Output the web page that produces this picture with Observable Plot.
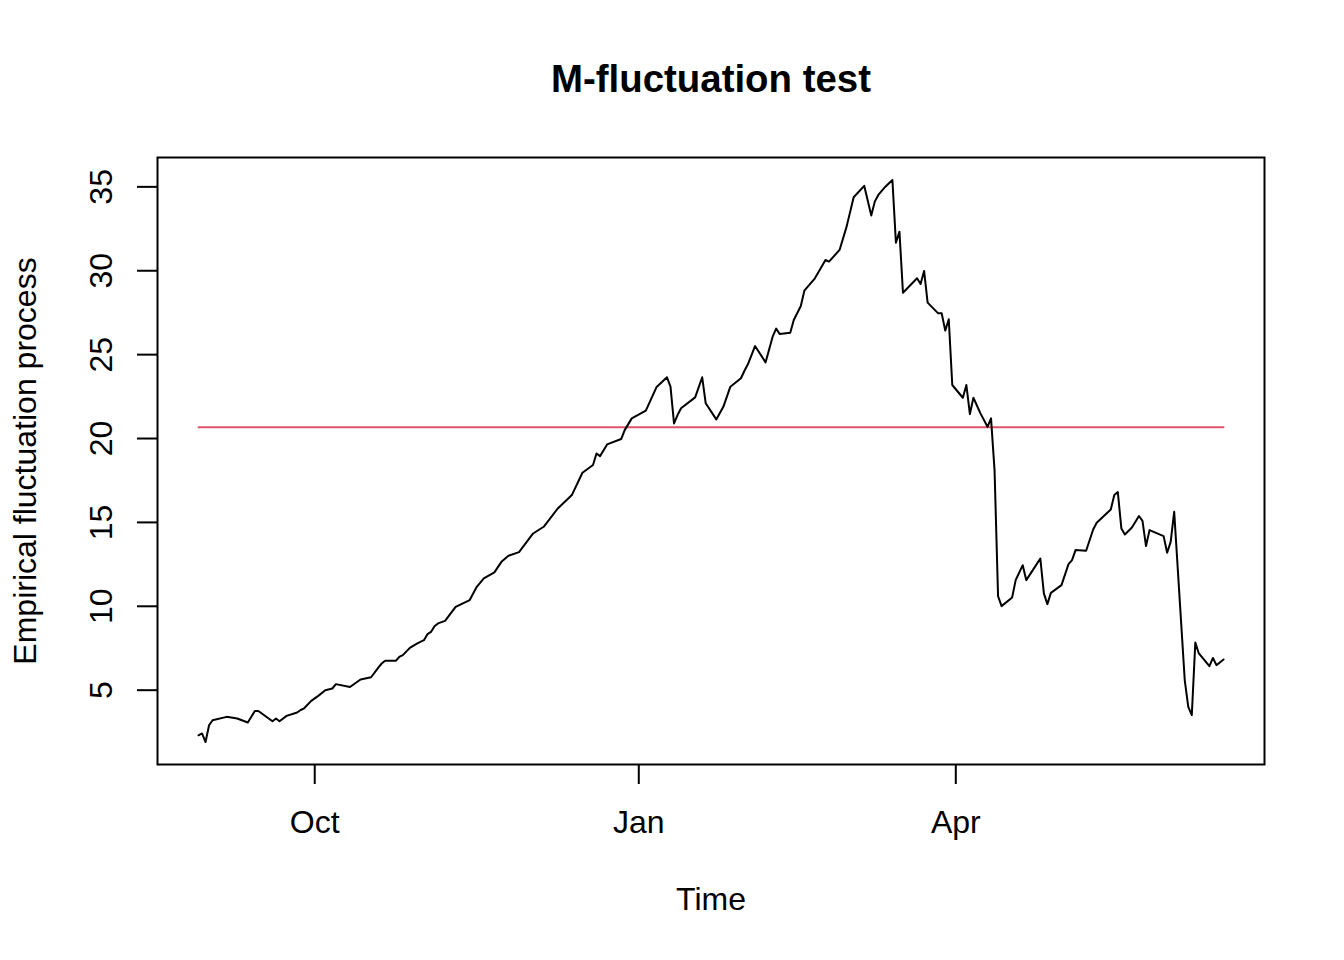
<!DOCTYPE html>
<html>
<head>
<meta charset="utf-8">
<script src="https://cdn.jsdelivr.net/npm/d3@7"></script>
<script src="https://cdn.jsdelivr.net/npm/@observablehq/plot@0.6"></script>
<style>
  html, body { margin: 0; padding: 0; background: white; }
</style>
</head>
<body>
<div id="chart"></div>
<script>
// Days relative to 1 Oct 2001 (time index of the empirical fluctuation process)
const days = [-33,-32,-31,-30,-29,-25,-22,-19,-17,-16,
  -12,-11,-10,-8,-5,-4,-3,-1,1,3,
  5,6,10,13,16,18,19,20,23,24,
  25,27,29,31,32,33,34,35,37,40,
  44,46,48,51,53,55,58,62,65,69,
  71,73,76,79,80,81,83,87,88,90,
  94,97,100,101,102,103,104,108,110,111,
  114,116,118,121,122,123,125,128,130,131,
  132,135,136,138,139,142,145,146,149,151,
  153,156,158,159,160,162,164,165,166,167,
  171,172,173,174,177,178,179,180,181,184,
  185,186,187,189,191,192,193,194,195,198,
  199,201,202,204,206,207,208,209,212,214,
  215,216,219,221,222,226,227,228,229,230,
  232,234,235,236,237,241,242,243,244,247,
  248,249,250,251,254,255,256,258];

const values = [2.31,2.42,1.91,2.91,3.21,3.41,3.31,3.07,3.76,3.76,
  3.15,3.31,3.15,3.47,3.67,3.82,3.92,4.36,4.66,5.00,
  5.10,5.36,5.19,5.64,5.77,6.33,6.59,6.75,6.75,6.98,
  7.09,7.52,7.78,7.98,8.34,8.47,8.81,8.98,9.13,9.97,
  10.37,11.16,11.66,12.02,12.65,13.01,13.23,14.34,14.74,15.83,
  16.23,16.63,17.96,18.42,19.11,18.95,19.65,19.97,20.50,21.20,
  21.66,23.05,23.65,23.09,20.90,21.40,21.80,22.45,23.65,22.10,
  21.14,21.89,23.09,23.59,24.04,24.44,25.51,24.54,26.07,26.55,
  26.23,26.31,27.06,27.90,28.81,29.55,30.64,30.54,31.24,32.63,
  34.38,35.06,33.29,34.12,34.52,35.01,35.41,31.67,32.33,28.69,
  29.55,29.21,29.99,28.10,27.46,27.46,26.43,27.11,23.19,22.43,
  23.19,21.46,22.43,21.50,20.70,21.20,18.12,10.60,10.01,10.53,
  11.56,12.45,11.56,12.20,12.85,10.77,10.13,10.80,11.26,12.51,
  12.75,13.35,13.31,14.58,14.98,15.77,16.63,16.81,14.64,14.28,
  14.70,15.38,15.09,13.59,14.54,14.18,13.19,13.84,15.63,5.59,
  4.00,3.51,7.84,7.19,6.43,6.92,6.49,6.83];

const criticalValue = 20.67;

const tickDays = [0, 92, 182];
const tickLabels = ["Oct", "Jan", "Apr"];
const yTicks = [5, 10, 15, 20, 25, 30, 35];

const titleText = "M-fluctuation test";
const xLabel = "Time";
const yLabel = "Empirical fluctuation process";

// ---- build tables ----
const origin = Date.UTC(2001, 9, 1);
const toDate = d => new Date(origin + d * 864e5);

const rows = days.map((d, i) => ({date: toDate(d), value: values[i]}));
const boundaryRows = [
  {date: toDate(days[0]), value: criticalValue},
  {date: toDate(days[days.length - 1]), value: criticalValue}
];
const tickDates = tickDays.map(toDate);
const labelFor = d => tickLabels[tickDates.findIndex(t => +t === +d)];

// R-style 4% extension of the ranges
const dMin = d3.min(days), dMax = d3.max(days);
const dPad = (dMax - dMin) * 0.04;
const vMin = d3.min(values), vMax = d3.max(values);
const vPad = (vMax - vMin) * 0.04;

const font = "'Liberation Sans', Arial, Helvetica, sans-serif";

const chart = Plot.plot({
  width: 1344,
  height: 960,
  marginLeft: 157,
  marginRight: 80,
  marginTop: 157,
  marginBottom: 196,
  style: {fontFamily: font, background: "white", color: "black"},
  x: {type: "utc", domain: [toDate(dMin - dPad), toDate(dMax + dPad)]},
  y: {domain: [vMin - vPad, vMax + vPad]},
  marks: [
    Plot.lineY(boundaryRows, {x: "date", y: "value", stroke: "#DF536B", strokeWidth: 2}),
    Plot.lineY(rows, {x: "date", y: "value", stroke: "black", strokeWidth: 2}),
    Plot.frame({stroke: "black", strokeWidth: 2}),
    Plot.axisX({
      ticks: tickDates, tickFormat: labelFor, tickSize: 20, tickPadding: 26,
      fontSize: 32, label: null, strokeWidth: 2
    }),
    // y tick marks (horizontal)
    Plot.axisY({
      ticks: yTicks, tickFormat: () => "", tickSize: 20, tickPadding: 0,
      fontSize: 32, label: null, strokeWidth: 2
    }),
    // y tick labels (rotated, R style)
    Plot.axisY({
      ticks: yTicks, tickFormat: d => String(d), tickSize: 0, tickPadding: 56,
      fontSize: 32, label: null,
      rotate: -90, textAnchor: "middle", lineAnchor: "middle"
    }),
    Plot.text([titleText], {
      text: d => d, frameAnchor: "top", dy: -78, fontSize: 38.4,
      fontWeight: "bold", textAnchor: "middle", lineAnchor: "middle"
    }),
    Plot.text([xLabel], {
      text: d => d, frameAnchor: "bottom", dy: 135, fontSize: 32,
      textAnchor: "middle", lineAnchor: "middle"
    }),
    Plot.text([yLabel], {
      text: d => d, frameAnchor: "left", dx: -132, rotate: -90, fontSize: 32,
      textAnchor: "middle", lineAnchor: "middle"
    })
  ]
});

document.getElementById("chart").appendChild(chart);
</script>
</body>
</html>
